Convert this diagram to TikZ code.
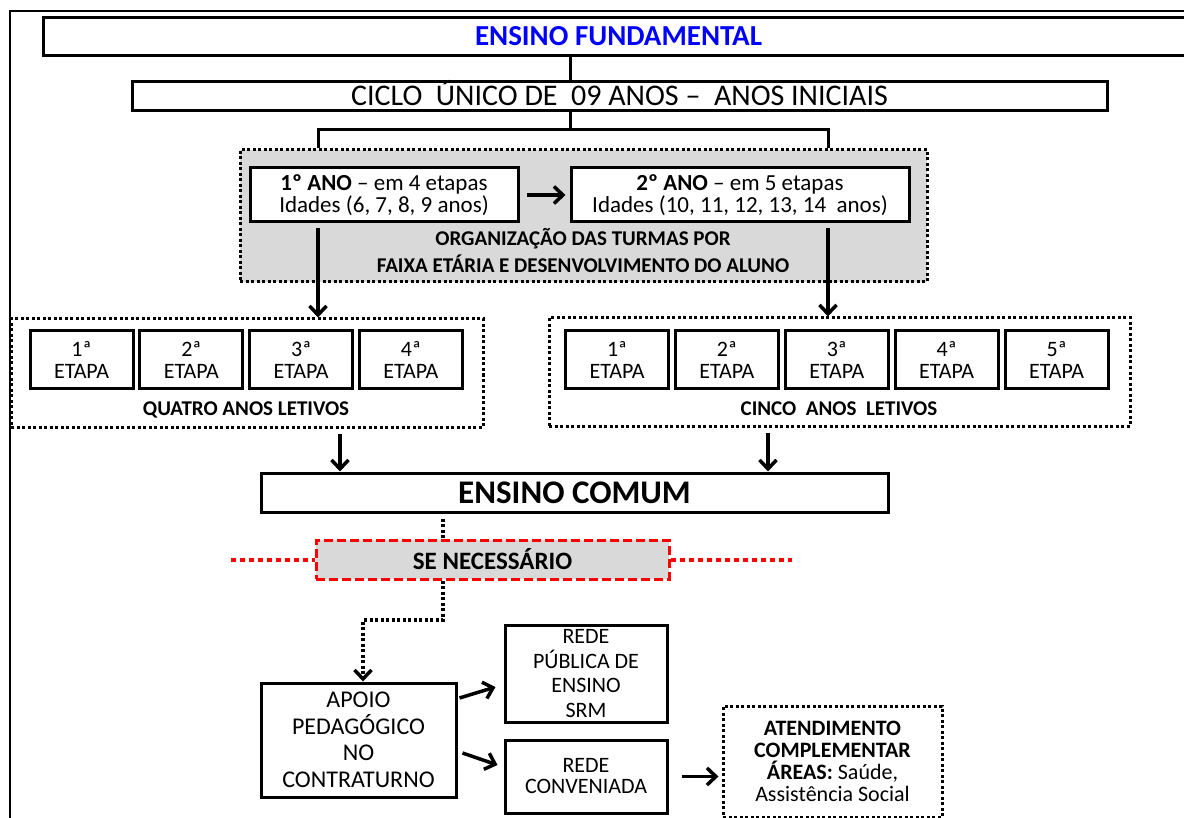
\documentclass[tikz,border=0pt]{standalone}
\usepackage{fontspec}
\setmainfont{Carlito}
\usetikzlibrary{arrows.meta,positioning,calc}
\definecolor{panel}{HTML}{D9D9D9}
\tikzset{
    box/.style={draw, line width=3pt, fill=white, inner sep=0pt, align=center},
    dotbox/.style={draw, line width=3pt, dash pattern=on 3pt off 2.5pt, inner sep=0pt, align=center},
    etapa/.style={box, minimum width=103pt, minimum height=58pt, font=\fontsize{22}{22}\selectfont},
    boxtitle/.style={font=\bfseries\fontsize{21}{27}\selectfont, align=center, inner sep=0pt},
    link/.style={draw, line width=3pt},
    edge/.style={draw, line width=3.5pt, -{Straight Barb[length=9pt,width=17pt,line width=3.5pt]}},
    dotline/.style={draw, line width=3.5pt, dash pattern=on 3pt off 2.5pt},
    reddots/.style={draw=red, line width=4pt, dash pattern=on 5pt off 4pt}
}

\begin{document}
\begin{tikzpicture}[x=1pt, y=-1pt]
    \useasboundingbox (0,0) rectangle (1184,818);
    \clip (0,0) rectangle (1184,818);
    % frame
    \draw[line width=2.5pt] (10,840) -- (10,11) -- (1200,11);

    % Nodes
    \node[box, minimum width=1151pt, minimum height=38pt, text=blue, font=\bfseries\fontsize{29}{30}\selectfont] (fund) at (618.5,36.5) {ENSINO FUNDAMENTAL};
    \node[box, minimum width=975pt, minimum height=29pt, text height=19pt, text depth=0pt, font=\fontsize{30}{30}\selectfont] (ciclo) at (619.5,96.5) {CICLO\ \ ÚNICO DE\ \ 09 ANOS –\ \ ANOS INICIAIS};

    \node[dotbox, fill=panel, minimum width=687pt, minimum height=132pt] (org) at (583.5,216) {};
    \node[box, minimum width=268pt, minimum height=54pt, font=\fontsize{23}{22}\selectfont] (ano1) at (384,195) {\textbf{1º ANO} – em 4 etapas\\Idades (6, 7, 8, 9 anos)};
    \node[box, minimum width=338pt, minimum height=54pt, font=\fontsize{23}{22}\selectfont] (ano2) at (740,195) {\textbf{2º ANO} – em 5 etapas\\Idades (10, 11, 12, 13, 14\ \ anos)};
    \node[boxtitle] (orgtxt) at (583,250.5) {ORGANIZAÇÃO DAS TURMAS POR\\FAIXA ETÁRIA E DESENVOLVIMENTO DO ALUNO};

    \node[dotbox, minimum width=472pt, minimum height=108pt] (quatro) at (247,373) {};
    \foreach \n in {1,...,4}
        \node[etapa] (q\n) at ({81.5+(\n-1)*109.8},360) {\n{}ª\\ETAPA};
    \node[boxtitle] (quatrotxt) at (246,410) {QUATRO ANOS LETIVOS};

    \node[dotbox, minimum width=581pt, minimum height=108pt] (cinco) at (839.5,372) {};
    \foreach \n in {1,...,5}
        \node[etapa] (c\n) at ({617+(\n-1)*109.9},360) {\n{}ª\\ETAPA};
    \node[boxtitle] (cincotxt) at (839,409) {CINCO\ \ ANOS\ \ LETIVOS};

    \node[box, minimum width=627pt, minimum height=39pt, font=\bfseries\fontsize{33}{33}\selectfont] (comum) at (574.5,492.5) {ENSINO COMUM};
    \node[draw=red, line width=3pt, dash pattern=on 9pt off 4pt, fill=panel, inner sep=0pt, minimum width=353pt, minimum height=39pt, font=\bfseries\fontsize{25}{25}\selectfont] (se) at (492.5,559.5) {SE NECESSÁRIO};

    \node[box, minimum width=195pt, minimum height=114pt, font=\fontsize{24}{26.5}\selectfont] (apoio) at (358.5,740) {APOIO\\PEDAGÓGICO\\NO\\CONTRATURNO};
    \node[box, minimum width=162pt, minimum height=97pt, font=\fontsize{22}{24.5}\selectfont] (publica) at (586,673.5) {REDE\\PÚBLICA DE\\ENSINO\\SRM};
    \node[box, minimum width=162pt, minimum height=73pt, font=\fontsize{22}{21}\selectfont] (conv) at (586,776.5) {REDE\\CONVENIADA};
    \node[dotbox, minimum width=219pt, minimum height=111pt, font=\fontsize{22}{22}\selectfont] (atend) at (832.5,761.5) {\textbf{ATENDIMENTO}\\\textbf{COMPLEMENTAR}\\\textbf{ÁREAS:} Saúde,\\Assistência Social};

    % edges
    \coordinate (trunk) at (570,130);
    \coordinate (brL) at (318,130);
    \coordinate (brR) at (828,130);
    \draw[link] (fund.south -| trunk) -- (ciclo.north -| trunk);
    \draw[link] (ciclo.south -| trunk) -- (trunk);
    \draw[link] (org.north -| brL) -- (brL) -- (brR) -- (org.north -| brR);
    \draw[edge, shorten <=7pt, shorten >=4pt] (ano1) -- (ano2);
    \draw[edge, shorten <=5pt] (ano1.south -| brL) -- (quatro.north -| brL);
    \draw[edge, shorten <=5pt] (ano2.south -| brR) -- (cinco.north -| brR);

    \coordinate (dl) at (340,0);
    \coordinate (dr) at (768,0);
    \draw[edge, shorten <=5pt] (quatro.south -| dl) -- (comum.north -| dl);
    \draw[edge, shorten <=5pt] (cinco.south -| dr) -- (comum.north -| dr);

    \coordinate (sx) at (443,0);
    \coordinate (bendR) at (443,620);
    \coordinate (bendL) at (363,620);
    \coordinate (rl) at (231,559.5);
    \coordinate (rr) at (792,559.5);
    \draw[dotline, shorten <=5pt] (comum.south -| sx) -- (se.north -| sx);
    \draw[dotline, -{Straight Barb[length=9pt,width=17pt,line width=3.5pt]}] (se.south -| sx) -- (bendR) -- (bendL) -- (apoio.north -| bendL);
    \draw[reddots] (rl) -- (se.west);
    \draw[reddots] (se.east) -- (rr);

    \draw[edge] ([shift={(2,-42)}]apoio.east) -- ([shift={(-8,13.5)}]publica.west);
    \draw[edge] ([shift={(5,13)}]apoio.east) -- ([shift={(-6,-11.5)}]conv.west);
    \draw[edge] ([xshift=13pt]conv.east) -- ([xshift=-3pt]conv.east -| atend.west);
\end{tikzpicture}
\end{document}
